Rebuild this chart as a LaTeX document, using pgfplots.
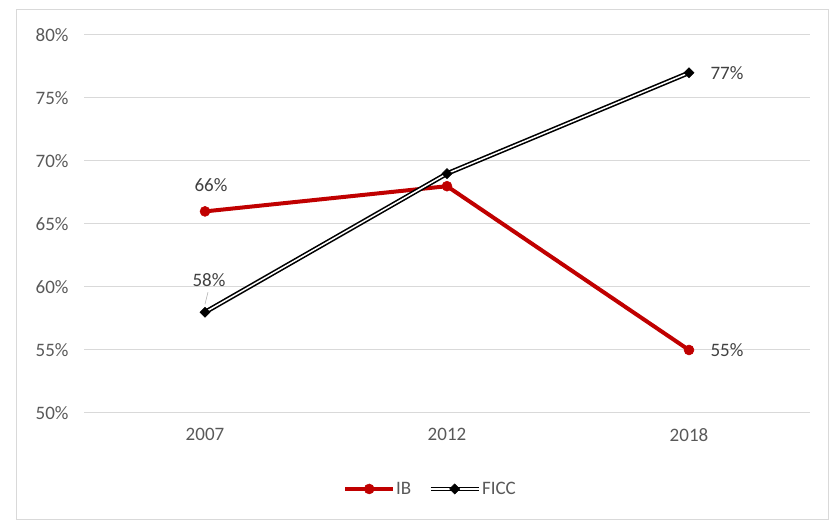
\documentclass[border=0pt]{standalone}
\usepackage{fontspec}
\setmainfont{Carlito}
\usepackage{pgfplots}
\pgfplotsset{compat=1.18}
\definecolor{ibred}{HTML}{C00000}
\definecolor{gridgray}{HTML}{D9D9D9}
\definecolor{ticktext}{HTML}{595959}
\definecolor{labeltext}{HTML}{404040}
\definecolor{framegray}{HTML}{D9D9D9}

\begin{document}
\begin{tikzpicture}[x=1pt,y=1pt]
% page and outer frame
\path[use as bounding box] (0,0) rectangle (830,522);
\draw[framegray, line width=1pt] (16,2) rectangle (828,512);

\begin{axis}[
  at={(84pt,109pt)}, anchor=south west,
  scale only axis, width=726pt, height=378pt,
  xmin=-0.5, xmax=2.5, ymin=50, ymax=80,
  xtick={0,1,2}, xticklabels={2007,2012,2018},
  ytick={50,55,...,80},
  yticklabel={\pgfmathprintnumber{\tick}\%},
  /pgf/number format/assume math mode=true,
  ymajorgrids, grid style={gridgray, line width=1pt},
  axis line style={draw=none},
  major tick length=0pt,
  tick label style={font=\fontsize{19}{22}\selectfont, text=ticktext},
  xticklabel style={yshift=-12pt},
  yticklabel style={xshift=-12pt},
  legend style={at={(0.4766,-0.201)}, anchor=center, draw=none,
    font=\fontsize{19}{22}\selectfont, text=ticktext,
    legend columns=2, column sep=0pt, inner sep=0pt,
    nodes={inner sep=1pt},
    /tikz/every even column/.append style={column sep=16pt}},
  legend cell align=left,
  legend image code/.code={
    \draw[mark repeat=2, mark phase=2, #1]
      plot coordinates {(0pt,0pt) (24pt,0pt) (48pt,0pt)};},
  clip=false,
]
\addplot[ibred, line width=4pt, mark=*,
  mark options={fill=ibred, draw=ibred, line width=0.5pt}, mark size=5pt]
  coordinates {(0,66) (1,68) (2,55)};
\addlegendentry{IB}

\addplot[draw=black, double=white, double distance=1.5pt, line width=1.6pt,
  mark=square*, mark size=3.6pt,
  mark options={double=none, fill=black, draw=black, line width=0.5pt, rotate=45}]
  coordinates {(0,58) (1,69) (2,77)};
\addlegendentry{FICC}

% value labels
\begin{scope}[every node/.style={font=\fontsize{19}{22}\selectfont, text=labeltext}]
\node at (axis cs:0,66) [xshift=6pt, yshift=26pt] {66\%};
\node at (axis cs:0,58) [xshift=4pt, yshift=32pt] {58\%};
\node at (axis cs:2,77) [xshift=38pt] {77\%};
\node at (axis cs:2,55) [xshift=38pt] {55\%};
\end{scope}
\draw[gray!60, line width=0.6pt] ([xshift=3pt,yshift=20pt]axis cs:0,58) -- ([xshift=0pt,yshift=8pt]axis cs:0,58);
\end{axis}
\end{tikzpicture}
\end{document}
